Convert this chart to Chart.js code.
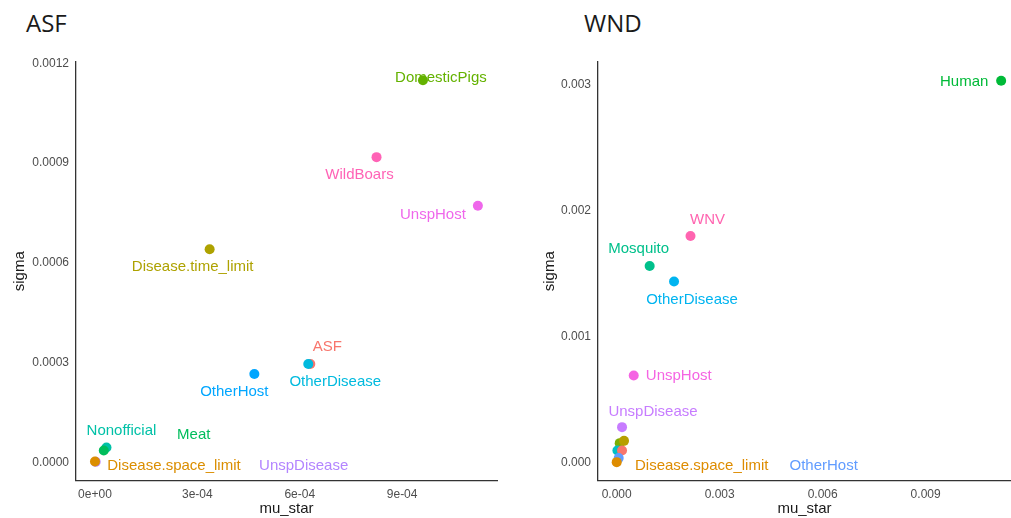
<!DOCTYPE html>
<html>
<head>
<meta charset="utf-8">
<script src="https://cdn.jsdelivr.net/npm/chart.js@4.4.1/dist/chart.umd.min.js"></script>
<style>
  body { margin: 0; background: #fff; width: 1011px; height: 518px; overflow: hidden; position: relative; }
  canvas { position: absolute; top: 0; }
  #asf { left: 0; }
  #wnd { left: 530px; }
  .title { position: absolute; top: 6px; font-family: 'Open Sans', sans-serif; font-size: 24px; color: #1a1a1a; }
</style>
</head>
<body>
<div class="title" style="left:26px">ASF</div>
<div class="title" style="left:584px">WND</div>
<canvas id="asf" width="505" height="518"></canvas>
<canvas id="wnd" width="481" height="518"></canvas>
<script>
// ASF panel (arrays are in draw order, later points sit on top)
const asfNames = ['UnspDisease', 'ASF', 'OtherDisease', 'Nonofficial', 'Meat', 'Disease.space_limit',
  'Disease.time_limit', 'OtherHost', 'WildBoars', 'UnspHost', 'DomesticPigs'];
const asfMuStar = [0.000002, 0.000631, 0.000625, 0.0000337, 0.0000258, 0.0, 0.000336, 0.000467, 0.000825, 0.001122, 0.000961];
const asfSigma = [0.000002, 0.000296, 0.000296, 0.000045, 0.000036, 0.000003, 0.000641, 0.000266, 0.000918, 0.000772, 0.001149];
const asfColors = ['#B385FF', '#F8766D', '#00BADE', '#00C1A7', '#00BD5C', '#DB8E00',
  '#AEA200', '#00A6FF', '#FF63B6', '#EF67EB', '#64B200'];
const asfXTicks = [0, 0.0003, 0.0006, 0.0009];
const asfXTickLabels = ['0e+00', '3e-04', '6e-04', '9e-04'];
const asfYTicks = [0, 0.0003, 0.0006, 0.0009, 0.0012];
const asfYTickLabels = ['0.0000', '0.0003', '0.0006', '0.0009', '0.0012'];

// WND panel
const wndNames = ['Horses', 'Disease.time_limit', 'Nonofficial', 'Birds', 'OtherHost', 'Disease.space_limit',
  'UnspDisease', 'UnspHost', 'OtherDisease', 'Mosquito', 'WNV', 'Human'];
const wndMuStar = [0.0000875, 0.000213, 0.00002, 0.000155, 0.000058, 0.0, 0.000155, 0.000496, 0.00167, 0.00096, 0.00215, 0.0112];
const wndSigma = [0.000154, 0.000172, 0.000095, 0.000095, 0.000035, 0.000003, 0.000281, 0.000691, 0.001438, 0.001562, 0.0018, 0.003034];
const wndColors = ['#7CAE00', '#B79F00', '#00BFC4', '#F8766D', '#619CFF', '#DE8C00',
  '#C77CFF', '#F564E3', '#00B4F0', '#00C08B', '#FF64B0', '#00BA38'];
const wndXTicks = [0, 0.003, 0.006, 0.009];
const wndXTickLabels = ['0.000', '0.003', '0.006', '0.009'];
const wndYTicks = [0, 0.001, 0.002, 0.003];
const wndYTickLabels = ['0.000', '0.001', '0.002', '0.003'];

// repel-style label offsets from each point, in px (null = no label)
const asfLabelOffsets = [[208, 4], [17, -17], [27, 18], [15, -17], [90, -16], [79, 4.5],
  [-17, 18], [-20, 18], [-17, 18], [-45, 9], [18, -2]];
const wndLabelOffsets = [null, null, null, null, [205, 8], [85, 4],
  [31, -15], [45, 0], [18, 18], [-11, -17], [17, -16], [-37, 1]];

Chart.defaults.font.family = "'Liberation Sans', Arial, sans-serif";

const pointLabels = {
  id: 'pointLabels',
  afterDatasetsDraw(chart, args, opts) {
    const ctx = chart.ctx;
    const meta = chart.getDatasetMeta(0);
    ctx.save();
    ctx.font = "15px 'Liberation Sans', Arial, sans-serif";
    ctx.textAlign = 'center';
    ctx.textBaseline = 'middle';
    meta.data.forEach((pt, i) => {
      const off = opts.offsets[i];
      if (!off) return;
      ctx.fillStyle = opts.colors[i];
      ctx.fillText(opts.names[i], pt.x + off[0], pt.y + off[1]);
    });
    ctx.restore();
  }
};

function axis(title, ticks, tickLabels, range, fitFn, titlePad) {
  return {
    type: 'linear',
    min: range[0],
    max: range[1],
    afterBuildTicks: (s) => { s.ticks = ticks.map((v) => ({ value: v })); },
    afterFit: fitFn,
    grid: { display: false, drawTicks: false },
    border: { display: true, color: '#333333', width: 1.3 },
    ticks: {
      padding: 7,
      color: '#4d4d4d',
      font: { size: 12 },
      callback: (v) => tickLabels[ticks.indexOf(v)]
    },
    title: { display: true, text: title, color: '#1a1a1a', font: { size: 15 }, padding: titlePad }
  };
}

function makePanel(id, names, mu, sigma, colors, offsets, xTicks, xLabels, yTicks, yLabels, xRange, yRange, yWidth, padRight) {
  return new Chart(document.getElementById(id), {
    type: 'scatter',
    data: {
      datasets: [{
        data: mu.map((x, i) => ({ x, y: sigma[i] })),
        pointRadius: 5,
        pointHoverRadius: 5,
        pointBackgroundColor: colors,
        pointBorderWidth: 0,
        clip: false
      }]
    },
    options: {
      responsive: false,
      animation: false,
      events: [],
      layout: { autoPadding: false, padding: { top: 62, right: padRight, left: 0, bottom: 0 } },
      plugins: {
        legend: { display: false },
        tooltip: { enabled: false },
        pointLabels: { names, colors, offsets }
      },
      scales: {
        x: axis('mu_star', xTicks, xLabels, xRange, (s) => {
          s.height = 37.5;
          s.paddingLeft = 0;
          s.paddingRight = 0;
        }, { top: 0, bottom: 0 }),
        y: axis('sigma', yTicks, yLabels, yRange, (s) => {
          s.width = yWidth;
          s.paddingTop = 0;
          s.paddingBottom = 0;
        }, { top: 11, bottom: 0 })
      }
    },
    plugins: [pointLabels]
  });
}

makePanel('asf', asfNames, asfMuStar, asfSigma, asfColors, asfLabelOffsets,
  asfXTicks, asfXTickLabels, asfYTicks, asfYTickLabels,
  [-0.0000556, 0.001178], [-0.000054, 0.001204], 76, 8);
makePanel('wnd', wndNames, wndMuStar, wndSigma, wndColors, wndLabelOffsets,
  wndXTicks, wndXTickLabels, wndYTicks, wndYTickLabels,
  [-0.000545, 0.011487], [-0.000143, 0.003183], 68, 0);
</script>
</body>
</html>
